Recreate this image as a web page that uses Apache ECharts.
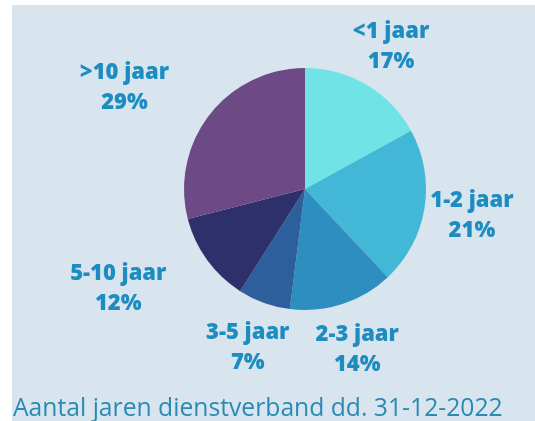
<!DOCTYPE html>
<html>
<head>
<meta charset="utf-8">
<script src="https://cdn.jsdelivr.net/npm/echarts@6/dist/echarts.min.js"></script>
<style>
html,body{margin:0;padding:0;background:#ffffff;}
#wrap{position:absolute;left:12px;top:5px;width:523px;height:416px;background:#d8e5ee;}
#chart{width:523px;height:416px;}
</style>
</head>
<body>
<div id="wrap"><div id="chart"></div></div>
<script>
const categories = ['<1 jaar', '1-2 jaar', '2-3 jaar', '3-5 jaar', '5-10 jaar', '>10 jaar'];
const values = [17, 21, 14, 7, 12, 29];
const sliceColors = ['#6fe3e6', '#43b7d6', '#2f8ec0', '#2c5f9b', '#2e306c', '#6d4a86'];
const titleText = 'Aantal jaren dienstverband dd. 31-12-2022';

const chart = echarts.init(document.getElementById('chart'));
const center = [293, 184];
const pieData = categories.map((c, i) => ({ name: c, value: values[i], itemStyle: { color: sliceColors[i] } }));
const labelData = categories.map((c, i) => ({ name: c, value: values[i] }));

chart.setOption({
  backgroundColor: 'transparent',
  animation: false,
  title: {
    text: titleText,
    left: 1,
    top: 391,
    padding: 0,
    textStyle: { fontFamily: 'Open Sans', fontWeight: 'normal', fontSize: 24.7, color: '#2a8ab3' }
  },
  series: [
    {
      type: 'pie',
      center: center,
      radius: [0, 121],
      startAngle: 90,
      clockwise: true,
      silent: true,
      label: { show: false },
      labelLine: { show: false },
      emphasis: { disabled: true },
      itemStyle: { borderWidth: 0 },
      data: pieData
    },
    {
      type: 'pie',
      center: center,
      radius: [160, 172],
      startAngle: 90,
      clockwise: true,
      silent: true,
      emphasis: { disabled: true },
      itemStyle: { color: 'rgba(0,0,0,0)', borderWidth: 0 },
      labelLine: { show: false },
      label: {
        show: true,
        position: 'inside',
        formatter: p => p.name + '\n' + p.value + '%',
        fontFamily: 'Open Sans',
        fontWeight: 800,
        fontSize: 22,
        lineHeight: 30,
        color: '#1d8cc0',
        align: 'center'
      },
      labelLayout: function (p) {
        if (p.dataIndex === 4) return { dx: -50 };
        if (p.dataIndex === 5) return { dx: -47, dy: 2 };
        if (p.dataIndex === 0) return { dy: 3 };
        return {};
      },
      data: labelData
    }
  ]
});
</script>
</body>
</html>
